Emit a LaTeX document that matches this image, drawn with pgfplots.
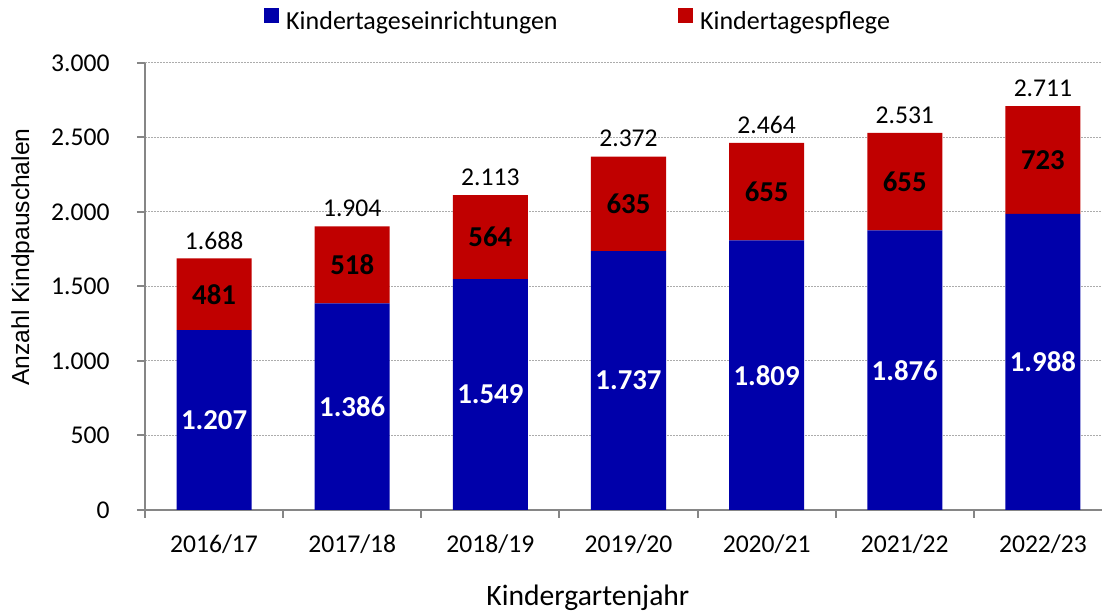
\documentclass[border=0pt]{standalone}
\usepackage{fontspec}
\setmainfont{Carlito}
\newfontfamily\arialfont{Liberation Sans}
\usepackage{pgfplots}
\pgfplotsset{compat=1.18}
\usepackage{pgfplotstable}
\definecolor{kitablue}{RGB}{0,0,170}
\definecolor{kitared}{RGB}{192,0,0}
\definecolor{axisgray}{RGB}{134,134,134}

% Kindpauschalen je Kindergartenjahr
\pgfplotstableread{
x label   b    r   t
0 2016/17 1207 481 1688
1 2017/18 1386 518 1904
2 2018/19 1549 564 2113
3 2019/20 1737 635 2372
4 2020/21 1809 655 2464
5 2021/22 1876 655 2531
6 2022/23 1988 723 2711
}\kpdata

\pgfplotsset{
  kpaxis/.style={
    at={(0,0)}, anchor=south west,
    width=483.5pt, height=223.5pt, scale only axis,
    xmin=-0.5, xmax=6.5, ymin=0, ymax=3000,
    /pgf/number format/1000 sep={.},
    /pgf/number format/assume math mode=true,
  },
  kplegend/.code={\fill[#1] (0pt,-0.3pt) rectangle (7.5pt,7.2pt);},
}

\begin{document}
\begin{tikzpicture}
\begin{axis}[
    kpaxis,
    ybar stacked, bar width=0.543,
    axis lines=left,
    axis line style={-, draw=axisgray, line width=1pt},
    tick align=outside, major tick length=4pt,
    tick style={draw=axisgray, line width=1pt},
    ytick={0,500,...,3000},
    yticklabel style={anchor=east, inner sep=0pt, xshift=-13.5pt,
        font=\fontsize{12.8}{15}\selectfont},
    xtick={-0.5,0.5,...,6.5}, xticklabels={},
    extra x ticks={0,1,...,6},
    extra x tick labels={2016/17,2017/18,2018/19,2019/20,2020/21,2021/22,2022/23},
    extra x tick style={major tick length=0pt,
        xticklabel style={anchor=base, inner sep=0pt, yshift=-21.5pt,
        font=\fontsize{12.8}{15}\selectfont}},
    ymajorgrids,
    grid style={draw=gray!65, line width=0.5pt, dash pattern=on 1pt off 0.5pt},
    xlabel={Kindergartenjahr},
    every axis x label/.style={at={(axis description cs:0.458,-0.2141)},
        anchor=base, font=\fontsize{14.8}{17}\selectfont},
    ylabel={Anzahl Kindpauschalen},
    every axis y label/.style={at={(axis description cs:-0.1197,0.566)},
        rotate=90, anchor=base, font=\arialfont\fontsize{12.3}{14}\selectfont},
    legend columns=2,
    legend cell align=left,
    legend style={draw=none, fill=none, inner sep=0pt,
        at={(axis description cs:0.1231,1.0955)}, anchor=west,
        font=\fontsize{13}{15}\selectfont,
        nodes={inner sep=0pt},
        /tikz/every odd column/.append style={column sep=3.4pt},
        /tikz/every even column/.append style={column sep=60.3pt}},
]
\addplot[fill=kitablue, draw=none, legend image code/.code={\fill[kitablue] (0pt,-0.3pt) rectangle (7.5pt,7.2pt);}]
    table[x=x, y=b] {\kpdata};
\addlegendentry{Kindertageseinrichtungen}
\addplot[fill=kitared, draw=none, legend image code/.code={\fill[kitared] (0pt,-0.3pt) rectangle (7.5pt,7.2pt);}]
    table[x=x, y=r] {\kpdata};
\addlegendentry{Kindertagespflege}
\end{axis}

\begin{axis}[kpaxis, hide axis, clip=false,
    nodes near coords, point meta=explicit]
% Werte Kindertageseinrichtungen (Mitte des blauen Balkens)
\addplot[draw=none, mark=none,
    every node near coord/.append style={anchor=center, text=white,
        font=\bfseries\fontsize{14.4}{16}\selectfont}]
    table[x=x, y expr=\thisrow{b}/2, meta=b] {\kpdata};
% Werte Kindertagespflege (Mitte des roten Balkens)
\addplot[draw=none, mark=none,
    every node near coord/.append style={anchor=center, text=black,
        font=\bfseries\fontsize{14.4}{16}\selectfont}]
    table[x=x, y expr=\thisrow{b}+\thisrow{r}/2, meta=r] {\kpdata};
% Summen
\addplot[draw=none, mark=none,
    every node near coord/.append style={anchor=center, text=black, yshift=9pt,
        font=\fontsize{12.8}{15}\selectfont}]
    table[x=x, y=t, meta=t] {\kpdata};
\end{axis}
\pgfresetboundingbox
\path[use as bounding box] (-72.5pt,-51.5pt) rectangle (478.5pt,255pt);
\end{tikzpicture}
\end{document}
